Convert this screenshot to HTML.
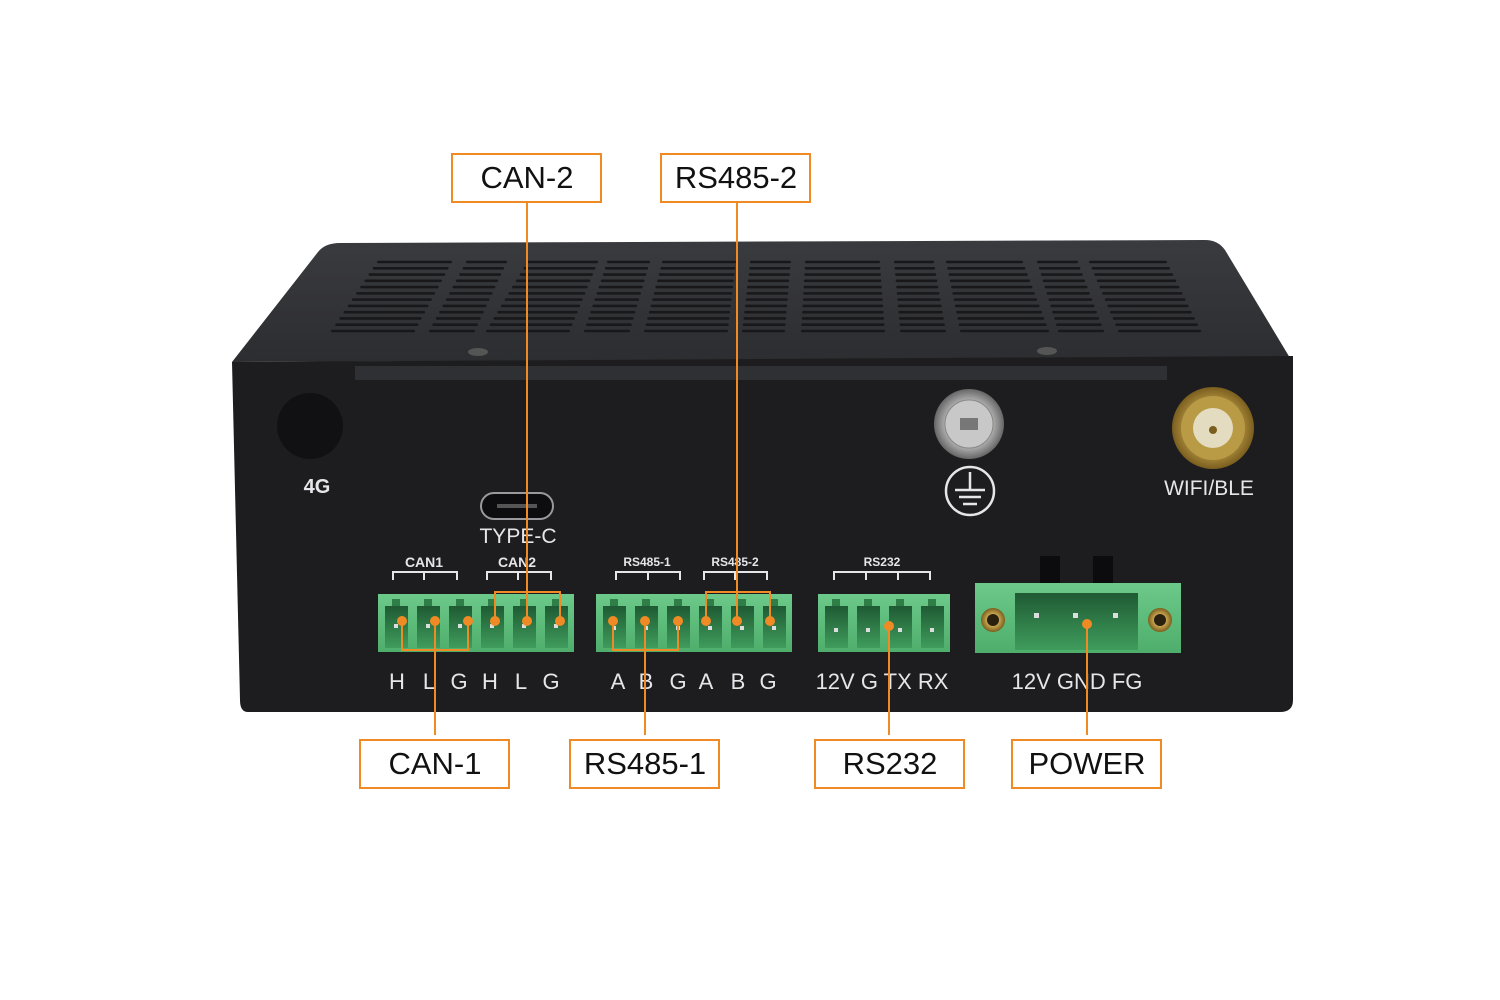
<!DOCTYPE html>
<html><head><meta charset="utf-8"><style>
html,body{margin:0;padding:0;background:#fff;}
svg{display:block;}
text{font-family:"Liberation Sans",sans-serif;}
</style></head><body>
<svg id="s" width="1500" height="1000" viewBox="0 0 1500 1000" xmlns="http://www.w3.org/2000/svg">
<defs>
<linearGradient id="tg" x1="0" y1="0" x2="0" y2="1"><stop offset="0" stop-color="#3a3b3f"/><stop offset="1" stop-color="#2c2d30"/></linearGradient>
<linearGradient id="gr" x1="0" y1="0" x2="0" y2="1"><stop offset="0" stop-color="#6cc98a"/><stop offset="1" stop-color="#4fae6c"/></linearGradient>
<linearGradient id="gin" x1="0" y1="0" x2="0" y2="1"><stop offset="0" stop-color="#1f5a33"/><stop offset="1" stop-color="#3f9c5c"/></linearGradient>
<radialGradient id="gold"><stop offset="0" stop-color="#f3e7b0"/><stop offset="0.5" stop-color="#c9a750"/><stop offset="1" stop-color="#7a5e1e"/></radialGradient>
<radialGradient id="sil"><stop offset="0" stop-color="#eee"/><stop offset="0.7" stop-color="#aaa"/><stop offset="1" stop-color="#666"/></radialGradient>
</defs>
<path d="M232,362 L318,252 Q325,243 340,243 L1205,240 Q1218,240 1225,250 L1290,358 Z" fill="url(#tg)"/>
<g id="vents" fill="#18181a"></g>
<ellipse cx="478" cy="352" rx="10" ry="4" fill="#555"/>
<ellipse cx="1047" cy="351" rx="10" ry="4" fill="#555"/>
<path d="M232,362 L1293,356 L1293,700 Q1293,712 1280,712 L248,712 Q240,712 240,700 Z" fill="#1d1d20"/>
<rect x="355" y="366" width="812" height="14" fill="#2f3033"/>
<circle cx="310" cy="426" r="33" fill="#111113"/>
<text x="317" y="493" font-size="20" font-weight="bold" fill="#e6e6ea" text-anchor="middle">4G</text>
<rect x="481" y="493" width="72" height="26" rx="13" fill="#0d0d0f" stroke="#9a9a9e" stroke-width="2"/>
<rect x="497" y="504" width="40" height="4" fill="#555"/>
<text x="518" y="543" font-size="21" fill="#e6e6ea" text-anchor="middle">TYPE-C</text>
<circle cx="969" cy="424" r="35" fill="url(#sil)"/>
<circle cx="969" cy="424" r="24" fill="#c8c8c8" stroke="#888"/>
<path d="M960,418 h18 v12 h-18z" fill="#777"/>
<circle cx="970" cy="491" r="24" fill="none" stroke="#e6e6ea" stroke-width="2.5"/>
<path d="M970,472 v17 M955,490 h30 M959,497 h22 M963,504 h14" stroke="#e6e6ea" stroke-width="2.5"/>
<circle cx="1213" cy="428" r="41" fill="url(#gold)"/>
<circle cx="1213" cy="428" r="32" fill="#b99a45"/>
<circle cx="1213" cy="428" r="20" fill="#e4dcc0"/>
<circle cx="1213" cy="430" r="4" fill="#7a5e1e"/>
<text x="1209" y="495" font-size="21" fill="#e6e6ea" text-anchor="middle">WIFI/BLE</text>
<g fill="#e6e6ea" font-size="14" font-weight="bold" text-anchor="middle">
<text x="424" y="567">CAN1</text><text x="517" y="567">CAN2</text>
<text x="647" y="566" font-size="12">RS485-1</text><text x="735" y="566" font-size="12">RS485-2</text>
<text x="882" y="566" font-size="12">RS232</text>
</g>
<g fill="none" stroke="#e6e6ea" stroke-width="2">
<path d="M393,580 v-8 h64 v8 M424,572 v8"/>
<path d="M487,580 v-8 h64 v8 M518,572 v8"/>
<path d="M616,580 v-8 h64 v8 M648,572 v8"/>
<path d="M704,580 v-8 h63 v8 M735,572 v8"/>
<path d="M834,580 v-8 h96 v8 M866,572 v8 M898,572 v8"/>
</g>
<g id="blocks"></g>
<rect x="1040" y="556" width="20" height="30" fill="#0c0c0e"/>
<rect x="1093" y="556" width="20" height="30" fill="#0c0c0e"/>
<rect x="975" y="583" width="206" height="70" fill="url(#gr)"/>
<rect x="1015" y="593" width="123" height="57" fill="url(#gin)"/>
<circle cx="993" cy="620" r="12" fill="url(#gold)"/><circle cx="993" cy="620" r="6" fill="#2a2010"/>
<circle cx="1160" cy="620" r="12" fill="url(#gold)"/><circle cx="1160" cy="620" r="6" fill="#2a2010"/>
<rect x="1034" y="613" width="5" height="5" fill="#ddd"/><rect x="1073" y="613" width="5" height="5" fill="#ddd"/><rect x="1113" y="613" width="5" height="5" fill="#ddd"/>
<g fill="#e6e6ea" font-size="22" text-anchor="middle">
<text x="397" y="689">H</text><text x="429" y="689">L</text><text x="459" y="689">G</text>
<text x="490" y="689">H</text><text x="521" y="689">L</text><text x="551" y="689">G</text>
<text x="618" y="689">A</text><text x="646" y="689">B</text><text x="678" y="689">G</text>
<text x="706" y="689">A</text><text x="738" y="689">B</text><text x="768" y="689">G</text>
<text x="882" y="689">12V G TX RX</text>
<text x="1077" y="689">12V  GND  FG</text>
</g>
<g fill="none" stroke="#f08a24" stroke-width="2">
<path d="M527,203 V621 M495,621 V592 H560 V621"/>
<path d="M737,203 V621 M706,621 V592 H770 V621"/>
<path d="M435,735 V650 M402,621 V650 H468 V621 M435,621 V650"/>
<path d="M645,735 V650 M613,621 V650 H678 V621 M645,621 V650"/>
<path d="M889,735 V626"/>
<path d="M1087,735 V624"/>
<rect x="452" y="154" width="149" height="48"/>
<rect x="661" y="154" width="149" height="48"/>
<rect x="360" y="740" width="149" height="48"/>
<rect x="570" y="740" width="149" height="48"/>
<rect x="815" y="740" width="149" height="48"/>
<rect x="1012" y="740" width="149" height="48"/>
</g>
<g fill="#f08a24" id="dots"></g>
<g fill="#111" font-size="31" text-anchor="middle">
<text x="527" y="188">CAN-2</text><text x="736" y="188">RS485-2</text>
<text x="435" y="774">CAN-1</text><text x="645" y="774">RS485-1</text>
<text x="890" y="774">RS232</text><text x="1087" y="774">POWER</text>
</g>
</svg>
<script>
(function(){
var NS="http://www.w3.org/2000/svg";
function el(p,t,a){var e=document.createElementNS(NS,t);for(var k in a)e.setAttribute(k,a[k]);p.appendChild(e);return e;}
var vt=[[377,452],[466,507],[527,598],[607,650],[662,736],[750,791],[805,880],[894,934],[946,1023],[1037,1078],[1089,1167]];
var vb=[[331,415],[429,475],[486,570],[584,630],[644,728],[742,785],[801,885],[900,946],[960,1049],[1058,1104],[1118,1201]];
var v=document.getElementById("vents");
for(var r=0;r<12;r++){var t=r/11,y=262+t*69;
 for(var g=0;g<vt.length;g++){var a=vt[g][0]+(vb[g][0]-vt[g][0])*t,b=vt[g][1]+(vb[g][1]-vt[g][1])*t;
  el(v,"rect",{x:a,y:y-1.3,width:b-a,height:2.6,rx:1.2});}}
var bl=document.getElementById("blocks");
function block(x0,n,y){var w=32;el(bl,"rect",{x:x0,y:594,width:n*w+4,height:58,fill:"url(#gr)"});
 for(var i=0;i<n;i++){var x=x0+4+i*w;el(bl,"rect",{x:x+3,y:606,width:w-9,height:42,fill:"url(#gin)"});
  el(bl,"rect",{x:x+w/2-6,y:599,width:8,height:7,fill:"#2f7e48"});
  el(bl,"rect",{x:x+w/2-4,y:y,width:4,height:4,fill:"#ddd"});}}
block(378,6,624);block(596,6,626);block(818,4,628);
var d=document.getElementById("dots");
[402,435,468,495,527,560,613,645,678,706,737,770].forEach(function(x){el(d,"circle",{cx:x,cy:621,r:5});});
el(d,"circle",{cx:889,cy:626,r:5});el(d,"circle",{cx:1087,cy:624,r:5});
})();
</script>
</body></html>
